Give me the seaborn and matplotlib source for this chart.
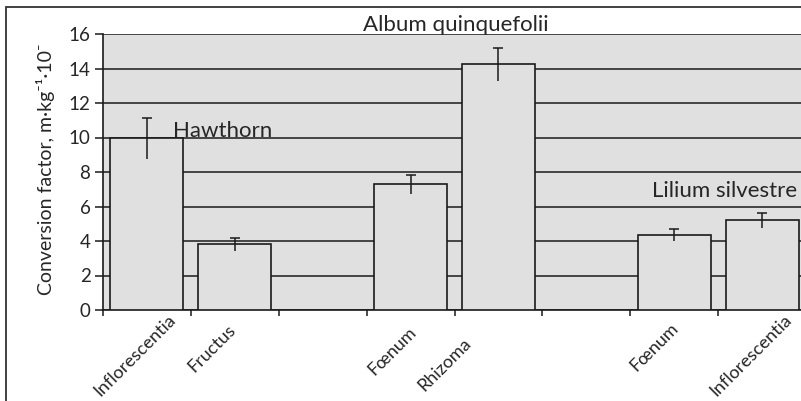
import numpy as np
import pandas as pd
import seaborn as sns
import matplotlib.pyplot as plt
import matplotlib.transforms as mtransforms
from matplotlib.patches import Rectangle

# chart data
slot_labels = ["Inflorescentia", "Fructus", "", "Fœnum", "Rhizoma", "", "Fœnum", "Inflorescentia"]
bar_slots = [0, 1, 3, 4, 6, 7]
bar_values = [9.95, 3.8, 7.3, 14.25, 4.35, 5.2]
bar_errors = [1.2, 0.4, 0.55, 0.95, 0.35, 0.45]
y_ticks = [0, 2, 4, 6, 8, 10, 12, 14, 16]

sns.set_style("white")
plt.rcParams["font.family"] = ["Lato", "DejaVu Sans"]

slot_keys = ["s%d" % i for i in range(len(slot_labels))]
df = pd.DataFrame({"slot": [slot_keys[i] for i in bar_slots], "value": bar_values})

fig = plt.figure(figsize=(8.01, 4.01), dpi=100)
ax = fig.add_axes([103 / 801, 1 - 310 / 401, 703 / 801, 276 / 401])
ax.set_facecolor("#e0e0e0")

sns.barplot(data=df, x="slot", y="value", order=slot_keys, color="#e0e0e0",
            saturation=1, edgecolor="#1a1a1a", linewidth=1.2, width=0.83,
            errorbar=None, ax=ax, zorder=3)

# excel style error bars: line with a cap on top only
ax.errorbar(bar_slots, bar_values, yerr=bar_errors, fmt="none", ecolor="#1a1a1a",
            elinewidth=1.1, capsize=0, zorder=4)
ax.plot(bar_slots, np.array(bar_values) + np.array(bar_errors), ls="none",
        marker="_", ms=7, mew=1.1, color="#1a1a1a", zorder=4)

ax.set_xlim(-0.5, len(slot_labels) - 0.5)
ax.set_ylim(0, 16)
ax.set_yticks(y_ticks)
ax.yaxis.grid(True, color="#1a1a1a", lw=1.1)
ax.set_axisbelow(True)

for side in ["top", "right"]:
    ax.spines[side].set_visible(False)
for side in ["left", "bottom"]:
    ax.spines[side].set_color("#1a1a1a")
    ax.spines[side].set_linewidth(1.2)

ax.tick_params(axis="y", direction="out", length=6, width=1.1, color="#1a1a1a",
               labelsize=13.5, pad=3, left=True)
ax.set_xticks(range(len(slot_labels)))
ax.set_xticklabels(slot_labels)
ax.tick_params(axis="x", which="major", length=0, pad=0)
ax.set_xticks(np.arange(-0.5, len(slot_labels), 1), minor=True)
ax.tick_params(axis="x", which="minor", direction="out", length=4, width=1.1,
               color="#1a1a1a", bottom=True)

# rotated labels, nudged to where they sit in the original
label_dx = [21, -7, 0, -3, -36, 0, -4, 21]
label_dy = [2, 12, 0, 14, 25, 0, 10, 2]
for lab, dx, dy in zip(ax.get_xticklabels(), label_dx, label_dy):
    lab.set_rotation(45)
    lab.set_rotation_mode("anchor")
    lab.set_ha("right")
    lab.set_va("top")
    lab.set_fontsize(13)
    lab.set_transform(lab.get_transform() +
                      mtransforms.ScaledTranslation(dx / 100, -dy / 100, fig.dpi_scale_trans))

ax.set_xlabel("")
ax.set_ylabel("Conversion factor, m·kg⁻¹·10⁻", fontsize=14)
ax.yaxis.set_label_coords(-48 / 703, 0.51)

ax.text(0.3, 10.05, "Hawthorn", fontsize=16, ha="left", va="baseline", zorder=5)
ax.text(2.46, 16.15, "Album quinquefolii", fontsize=16, ha="left", va="baseline",
        clip_on=False, zorder=5)
ax.text(5.75, 6.57, "Lilium silvestre", fontsize=16, ha="left", va="baseline", zorder=5)

# outer chart frame
fig.patches.append(Rectangle((6 / 801, -0.05), 1.1, 1 - 7 / 401 + 0.05, fill=False,
                             edgecolor="#333333", lw=1.3, transform=fig.transFigure))

fig.savefig("out.png", dpi=100)
